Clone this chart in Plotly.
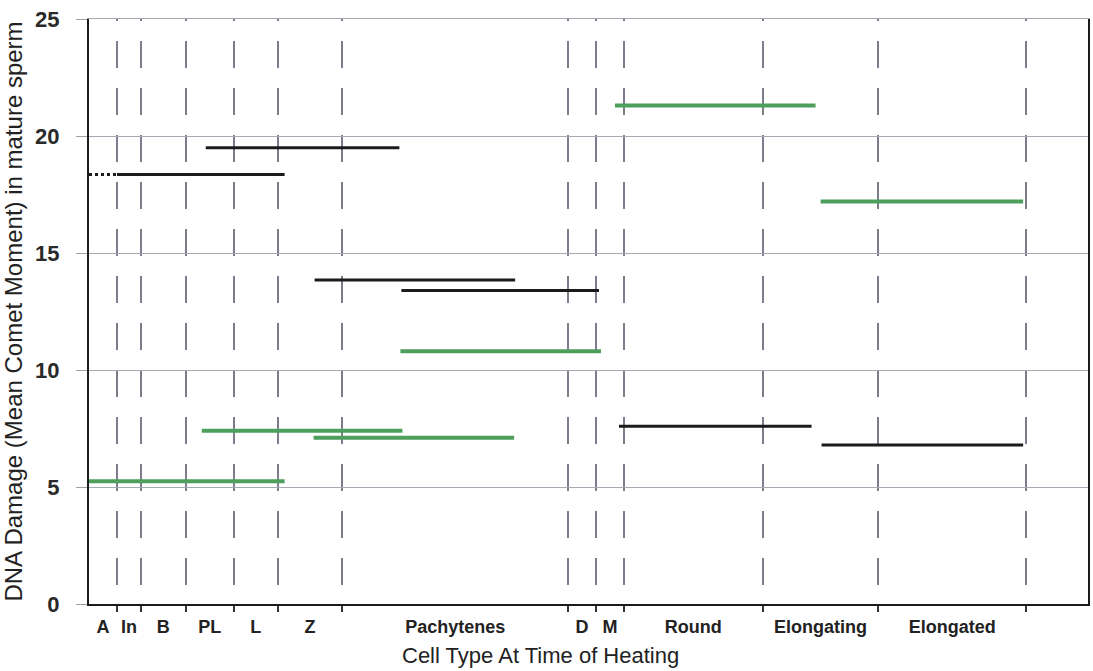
import plotly.graph_objects as go

# Stage boundaries along the x axis (arbitrary progression units, 0-100)
stage_edges = [0.0, 2.80, 5.19, 9.69, 14.49, 18.88, 25.37, 47.95, 50.75, 53.55, 67.43, 79.02, 93.81]
stage_labels = ["A", "In", "B", "PL", "L", "Z", "Pachytenes", "D", "M", "Round", "Elongating", "Elongated"]

# Black segments: start, end, mean comet moment
black_start = [2.80, 11.69, 22.58, 31.27, 53.05, 73.33]
black_end = [19.58, 31.07, 42.66, 51.05, 72.33, 93.51]
black_value = [18.35, 19.5, 13.85, 13.4, 7.6, 6.8]

# Dotted extrapolation of the first black segment into the A stage
black_dotted_start = [0.0]
black_dotted_end = [2.80]
black_dotted_value = [18.35]

# Green segments: start, end, mean comet moment
green_start = [0.0, 11.29, 22.48, 31.17, 52.65, 73.23]
green_end = [19.58, 31.37, 42.56, 51.25, 72.73, 93.51]
green_value = [5.25, 7.4, 7.1, 10.8, 21.3, 17.2]

y_ticks = [0, 5, 10, 15, 20, 25]

BLACK = "#1b1b1b"
GREEN = "#4f9f5c"
GRID = "#a8a8b4"
FONT = "Arial, 'Liberation Sans', sans-serif"


def segments(starts, ends, values):
    xs, ys = [], []
    for s, e, v in zip(starts, ends, values):
        xs += [s, e, None]
        ys += [v, v, None]
    return xs, ys


fig = go.Figure()

gx, gy = segments(green_start, green_end, green_value)
fig.add_trace(go.Scatter(x=gx, y=gy, mode="lines",
                         line=dict(color=GREEN, width=4), hoverinfo="skip"))

bx, by = segments(black_start, black_end, black_value)
fig.add_trace(go.Scatter(x=bx, y=by, mode="lines",
                         line=dict(color=BLACK, width=3), hoverinfo="skip"))

dx, dy = segments(black_dotted_start, black_dotted_end, black_dotted_value)
fig.add_trace(go.Scatter(x=dx, y=dy, mode="lines",
                         line=dict(color=BLACK, width=3, dash="dot"), hoverinfo="skip"))

# empty trace so the top-side axis (light frame line at y=25) is drawn
fig.add_trace(go.Scatter(x=[None], y=[None], xaxis="x2", yaxis="y",
                         mode="lines", hoverinfo="skip"))

# Stage labels sit midway between the boundaries
label_pos = [(a + b) / 2 for a, b in zip(stage_edges[:-1], stage_edges[1:])]

fig.update_layout(
    width=1093, height=671,
    margin=dict(l=89, r=3, t=19, b=67),
    plot_bgcolor="white", paper_bgcolor="white",
    showlegend=False,
    font=dict(family=FONT, color="#222222"),
    xaxis=dict(
        range=[0, 100],
        tickmode="array", tickvals=label_pos, ticktext=stage_labels,
        ticks="", showgrid=False, zeroline=False,
        tickfont=dict(family=FONT, size=18, color="#222222", weight="bold"),
        ticklabelstandoff=5,
        showline=True, linecolor=BLACK, linewidth=2,
        minor=dict(
            tickmode="array", tickvals=stage_edges[1:],
            ticks="outside", ticklen=6, tickwidth=2, tickcolor="#333333",
            showgrid=True, gridcolor="#7c7c8c", gridwidth=1.5,
            griddash="2px,20px,25px,0px",
        ),
    ),
    xaxis2=dict(
        overlaying="x", side="top", range=[0, 100],
        showline=True, linecolor=GRID, linewidth=1,
        showgrid=False, zeroline=False, ticks="", showticklabels=False,
    ),
    yaxis=dict(
        range=[0, 25],
        tickmode="array", tickvals=y_ticks,
        ticks="outside", ticklen=11, tickcolor="#a0a0aa", tickwidth=1,
        tickfont=dict(family=FONT, size=22, color="#2a2a2a", weight="bold"),
        ticklabelstandoff=12,
        showgrid=True, gridcolor=GRID, gridwidth=1,
        zeroline=False,
        showline=True, linecolor=BLACK, linewidth=2, mirror=True,
        title=dict(text="DNA Damage (Mean Comet Moment) in mature sperm",
                   font=dict(family=FONT, size=24, color="#222222"),
                   standoff=8),
    ),
    annotations=[dict(
        text="Cell Type At Time of Heating",
        xref="paper", yref="paper",
        x=(541 - 89) / 1001, y=-(655 - 604) / 585,
        xanchor="center", yanchor="middle", showarrow=False,
        font=dict(family=FONT, size=22, color="#222222"),
    )],
)

fig.write_html("out.html")
